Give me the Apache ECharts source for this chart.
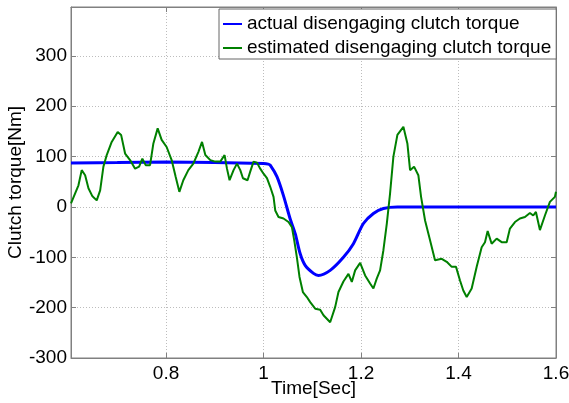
<!DOCTYPE html>
<html>
<head>
<meta charset="utf-8">
<script src="https://cdn.jsdelivr.net/npm/echarts@6/dist/echarts.min.js"></script>
<style>
  html, body { margin: 0; padding: 0; background: #fff; }
  #chart { width: 569px; height: 403px; }
</style>
</head>
<body>
<div id="chart"></div>
<script>
// actual disengaging clutch torque (smooth)
const timeActual = [0.605, 0.7, 0.8, 0.9, 1.0, 1.0096, 1.0137, 1.0275, 1.041, 1.0547, 1.065, 1.0752, 1.0854,
  1.1025, 1.1127, 1.1367, 1.1639, 1.1844, 1.2049, 1.2254, 1.2459, 1.2746, 1.4, 1.6]
const torqueActual = [87, 88, 89, 88, 86, 85, 83, 60, 22, -24, -53, -93, -116,
  -132, -136, -126, -100, -73, -33, -13, -3, 0, 0, 0]

// estimated disengaging clutch torque (noisy)
const timeEstimated = [0.605, 0.6135, 0.6203, 0.627, 0.634, 0.6408, 0.649, 0.6578, 0.6648, 0.6715, 0.6783,
  0.6885, 0.7008, 0.7078, 0.716, 0.7262, 0.7365, 0.7447, 0.7514, 0.7582, 0.7672, 0.774, 0.7828, 0.791,
  0.8012, 0.8115, 0.8197, 0.8273, 0.8354, 0.8457, 0.856, 0.8662, 0.8738, 0.8806, 0.8908, 0.901, 0.9113,
  0.9201, 0.925, 0.9303, 0.9385, 0.9455, 0.9523, 0.9578, 0.9672, 0.9727, 0.9795, 0.9865, 0.9932, 1.0,
  1.007, 1.0137, 1.0205, 1.024, 1.0307, 1.041, 1.0512, 1.0582, 1.0629, 1.0684, 1.0738, 1.0807, 1.0889,
  1.0957, 1.106, 1.1162, 1.123, 1.1367, 1.1469, 1.1537, 1.1639, 1.1742, 1.1811, 1.1879, 1.1982, 1.2084,
  1.2186, 1.2254, 1.2324, 1.2391, 1.2459, 1.2529, 1.2596, 1.2664, 1.2746, 1.2869, 1.2951, 1.3006, 1.3088,
  1.3176, 1.3232, 1.3314, 1.3416, 1.3518, 1.3656, 1.3758, 1.3861, 1.3949, 1.4031, 1.4098, 1.4168, 1.427,
  1.4373, 1.4475, 1.4543, 1.4598, 1.468, 1.4783, 1.4885, 1.4988, 1.5055, 1.5158, 1.526, 1.5363, 1.5465,
  1.5533, 1.5588, 1.567, 1.5773, 1.5875, 1.5977, 1.6]
const torqueEstimated = [7, 27, 43, 73, 63, 37, 21, 13, 33, 80, 103,
  129, 149, 143, 106, 93, 76, 80, 96, 83, 83, 126, 156, 133,
  119, 93, 60, 30, 53, 73, 86, 109, 129, 103, 93, 90, 90,
  103, 76, 53, 73, 86, 73, 57, 53, 70, 90, 88, 76, 66,
  57, 40, 20, -7, -20, -23, -30, -40, -66, -100, -139, -169, -179,
  -189, -202, -204, -215, -229, -199, -169, -148, -133, -149, -126, -111, -136,
  -152, -162, -142, -126, -86, -33, 27, 100, 143, 159, 126, 73, 80,
  63, 20, -27, -66, -106, -103, -109, -119, -119, -146, -166, -179, -162,
  -119, -80, -70, -48, -73, -63, -70, -70, -43, -30, -23, -20, -12,
  -17, -10, -46, -17, 10, 20, 30]

const xTicks = [0.8, 1, 1.2, 1.4, 1.6]
const yTicks = [-300, -200, -100, 0, 100, 200, 300]

const zip = (xs, ys) => xs.map((x, i) => [x, ys[i]])

const font = 'Liberation Sans, Arial, sans-serif'
const boxColor = '#808080'
const gridLine = { show: true, lineStyle: { color: '#bdbdbd', type: [1, 2], width: 1 } }

const chart = echarts.init(document.getElementById('chart'))
chart.setOption({
  animation: false,
  backgroundColor: '#fff',
  grid: {
    left: 71, right: 13, top: 7, bottom: 45,
    outerBoundsMode: 'none',
    containLabel: false,
    show: true, borderColor: boxColor, borderWidth: 1
  },
  legend: {
    orient: 'vertical',
    left: 219,
    top: 9,
    padding: [5, 5, 1, 4],
    itemGap: 4,
    icon: 'rect',
    itemWidth: 19,
    itemHeight: 2,
    backgroundColor: '#fff',
    borderColor: '#666',
    borderWidth: 1,
    borderRadius: 0,
    textStyle: { fontFamily: font, fontSize: 19, color: '#000', lineHeight: 20 },
    data: ['actual disengaging clutch torque', 'estimated disengaging clutch torque']
  },
  xAxis: [{
    type: 'value',
    min: 0.605,
    max: 1.6,
    name: 'Time[Sec]',
    nameLocation: 'middle',
    nameGap: 21,
    nameMoveOverlap: false,
    nameTextStyle: { fontFamily: font, fontSize: 19, color: '#000' },
    axisLine: { onZero: false, lineStyle: { color: boxColor } },
    axisTick: { inside: true, length: 5, customValues: xTicks, lineStyle: { color: boxColor } },
    axisLabel: { customValues: xTicks, margin: 6, fontFamily: font, fontSize: 19, color: '#000' },
    splitLine: gridLine
  }, {
    type: 'value',
    position: 'top',
    min: 0.605,
    max: 1.6,
    axisLine: { onZero: false, lineStyle: { color: boxColor } },
    axisTick: { inside: true, length: 5, customValues: xTicks, lineStyle: { color: boxColor } },
    axisLabel: { show: false },
    splitLine: { show: false }
  }],
  yAxis: [{
    type: 'value',
    min: -300,
    max: 397,
    name: 'Clutch torque[Nm]',
    nameLocation: 'middle',
    nameGap: 46,
    nameMoveOverlap: false,
    nameTextStyle: { fontFamily: font, fontSize: 19, color: '#000' },
    axisLine: { show: true, onZero: false, lineStyle: { color: boxColor } },
    axisTick: { show: true, inside: true, length: 5, customValues: yTicks, lineStyle: { color: boxColor } },
    axisLabel: { customValues: yTicks, margin: 4, fontFamily: font, fontSize: 19, color: '#000' },
    splitLine: gridLine
  }, {
    type: 'value',
    position: 'right',
    min: -300,
    max: 397,
    axisLine: { show: true, onZero: false, lineStyle: { color: boxColor } },
    axisTick: { show: true, inside: true, length: 5, customValues: yTicks, lineStyle: { color: boxColor } },
    axisLabel: { show: false },
    splitLine: { show: false }
  }],
  series: [
    {
      name: 'actual disengaging clutch torque',
      type: 'line',
      data: zip(timeActual, torqueActual),
      smooth: 0.3,
      showSymbol: false,
      symbol: 'none',
      lineStyle: { color: '#0000ff', width: 3 },
      itemStyle: { color: '#0000ff' }
    },
    {
      name: 'estimated disengaging clutch torque',
      type: 'line',
      data: zip(timeEstimated, torqueEstimated),
      showSymbol: false,
      symbol: 'none',
      lineStyle: { color: '#008000', width: 2 },
      itemStyle: { color: '#008000' }
    }
  ]
})
</script>
</body>
</html>
